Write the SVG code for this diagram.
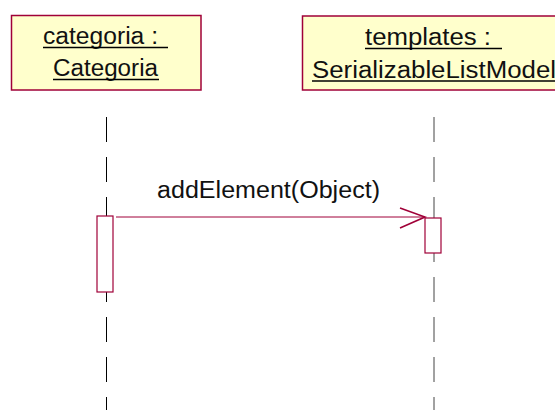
<svg xmlns="http://www.w3.org/2000/svg" width="555" height="410" viewBox="0 0 555 410">
<style>
.obj{fill:#ffffcc;stroke:#a00038;stroke-width:1.5}
.t{font-family:"Liberation Sans",Arial,sans-serif;font-size:23px;fill:#111;text-anchor:start}
.ul{stroke:#000;stroke-width:1.3}
.life{stroke:#000;stroke-width:1;stroke-dasharray:25 15}
.act{fill:#fff;stroke:#a00038;stroke-width:1.2}
.msg{stroke:#a00038;stroke-width:1;fill:none}
</style>
<rect width="555" height="410" fill="#fff"/>
<g id="connectors">
<line class="life" x1="106.5" y1="117" x2="106.5" y2="410"/>
<line class="life" x1="434" y1="117" x2="434" y2="410" style="stroke:#444"/>
<line class="msg" x1="116" y1="217" x2="425" y2="217"/>
<polyline class="msg" points="400,208 425,217 400,228" style="stroke-width:1.6"/>
<text class="t" x="157" y="197.5" font-size="21" textLength="223" lengthAdjust="spacingAndGlyphs">addElement(Object)</text>
</g>
<g id="categoria">
<rect class="obj" x="11.5" y="15.5" width="189.5" height="74.5"/>
<text class="t" x="43" y="44" textLength="115" lengthAdjust="spacingAndGlyphs">categoria :</text>
<line class="ul" x1="43" y1="47.5" x2="168" y2="47.5"/>
<text class="t" x="53" y="76" textLength="105" lengthAdjust="spacingAndGlyphs">Categoria</text>
<line class="ul" x1="53" y1="79.5" x2="159" y2="79.5"/>
</g>
<g id="templates">
<rect class="obj" x="302.5" y="16" width="265" height="74"/>
<text class="t" x="365" y="45" textLength="126" lengthAdjust="spacingAndGlyphs">templates :</text>
<line class="ul" x1="365" y1="48.5" x2="502" y2="48.5"/>
<text class="t" x="312" y="77.5" textLength="244" lengthAdjust="spacingAndGlyphs">SerializableListModel</text>
<line class="ul" x1="312" y1="81" x2="556" y2="81"/>
</g>
<g id="act-categoria">
<rect class="act" x="97" y="216" width="16" height="76"/>
</g>
<g id="act-templates">
<rect class="act" x="425" y="218" width="16" height="35"/>
</g>
</svg>
